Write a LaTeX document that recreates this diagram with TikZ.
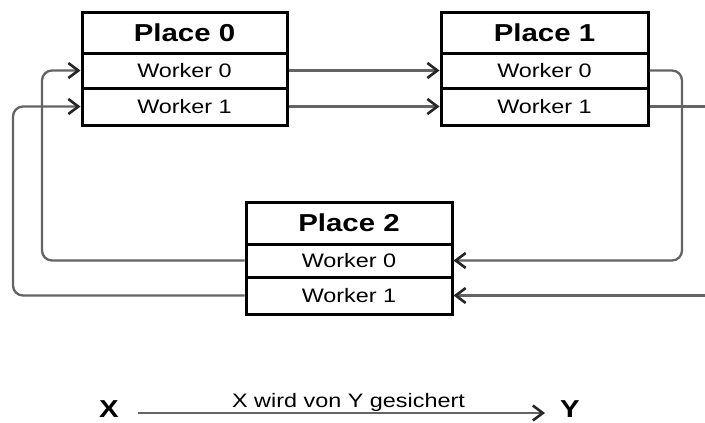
\documentclass[tikz,border=0pt]{standalone}
\usepackage{fontspec}
\newfontfamily\diafont{Liberation Sans}[FakeStretch=1.2]
\usetikzlibrary{arrows.meta}
\definecolor{linkgray}{RGB}{100,100,100}
\begin{document}
\begin{tikzpicture}[x=1pt,y=-1pt,
  cell/.style={draw=black, line width=3pt, inner sep=0pt, anchor=center,
               font=\diafont\fontsize{19.5}{20}\selectfont},
  titlecell/.style={cell, font=\diafont\bfseries\fontsize{24.5}{25}\selectfont},
  tip/.style={-{Straight Barb[length=10pt,width=15pt,line width=2.6pt,color=black!85]}},
  link/.style={draw=linkgray, line width=2.3pt, rounded corners=10pt},
  legend/.style={font=\diafont\bfseries\fontsize{24.5}{25}\selectfont, inner sep=0pt}
]
\useasboundingbox (0,0) rectangle (705,423);

% Place 0
\node[titlecell, minimum width=205pt, minimum height=41pt] (p0t)  at (184.5,32.5) {Place 0};
\node[cell, minimum width=205pt, minimum height=35pt]      (p0w0) at (184.5,70.5) {Worker 0};
\node[cell, minimum width=205pt, minimum height=37pt]      (p0w1) at (184.5,106.5) {Worker 1};

% Place 1
\node[titlecell, minimum width=207pt, minimum height=41pt] (p1t)  at (544.5,32.5) {Place 1};
\node[cell, minimum width=207pt, minimum height=35pt]      (p1w0) at (544.5,70.5) {Worker 0};
\node[cell, minimum width=207pt, minimum height=37pt]      (p1w1) at (544.5,106.5) {Worker 1};

% Place 2
\node[titlecell, minimum width=206pt, minimum height=42pt] (p2t)  at (349,223) {Place 2};
\node[cell, minimum width=206pt, minimum height=33pt]      (p2w0) at (349,260.5) {Worker 0};
\node[cell, minimum width=206pt, minimum height=37pt]      (p2w1) at (349,295.5) {Worker 1};

% routing columns and page-edge ends
\coordinate (l0) at (42,0);
\coordinate (l1) at (13,0);
\coordinate (r0) at (682,0);
\coordinate (rout) at (706,106.5);
\coordinate (rin)  at (706,295.5);

% backup links
\draw[link, tip] (p0w0.east) -- (p1w0.west);
\draw[link, tip] (p0w1.east) -- (p1w1.west);
\draw[link, tip] (p1w0.east) -| (r0 |- p2w0) -- (p2w0.east);
\draw[link] (p1w1.east) -- (rout);
\draw[link, tip] (rin) -- (p2w1.east);
\draw[link, tip] (p2w0.west) -| (l0 |- p0w0) -- (p0w0.west);
\draw[link, tip] (p2w1.west) -| (l1 |- p0w1) -- (p0w1.west);

% legend
\node[legend] (lx) at (109,409.5) {X};
\node[legend] (ly) at (570,409.5) {Y};
\coordinate (la) at (138,413);
\coordinate (lb) at (545,413);
\draw[link, tip] (la) -- (lb);
\node[anchor=base, inner sep=0pt, font=\diafont\fontsize{19.5}{20}\selectfont] (lt) at (348.5,407) {X wird von Y gesichert};
\end{tikzpicture}
\end{document}
